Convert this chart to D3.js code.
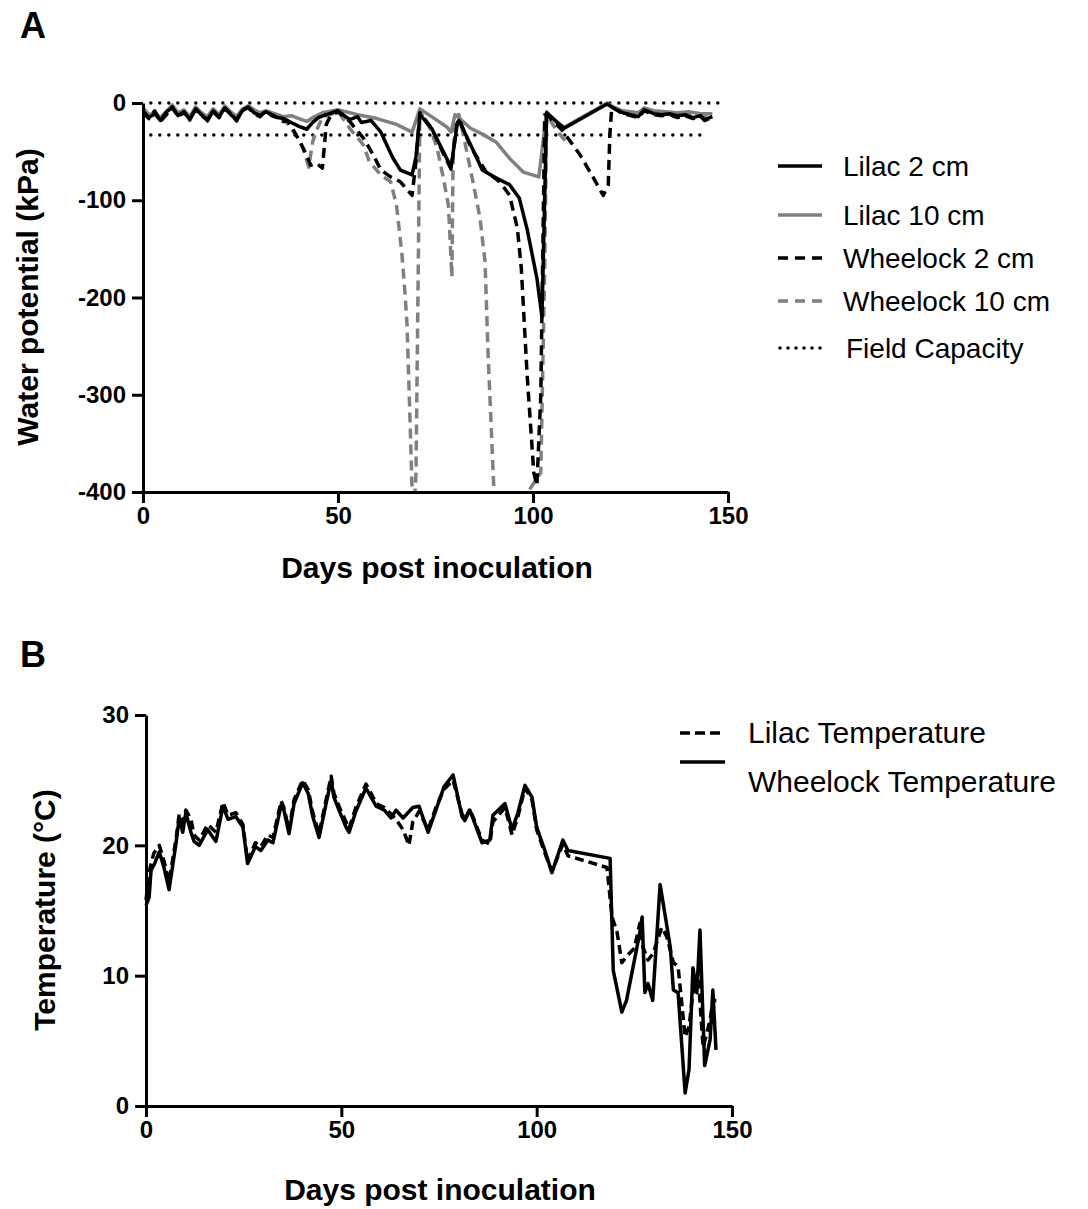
<!DOCTYPE html>
<html>
<head>
<meta charset="utf-8">
<script src="https://cdn.jsdelivr.net/npm/d3@7"></script>
<style>
  body { margin: 0; background: #fff; }
  text { font-family: "Liberation Sans", Arial, sans-serif; fill: #000; }
</style>
</head>
<body>
<div id="chart"></div>
<script>
// ---- data ----
// panel A: water potential (kPa) by day post inoculation
const lilac2 = [[0,-8],[1.5,-15],[3,-11],[4.5,-18],[6,-9],[7.5,-5],[9,-13],[10.5,-9],[12,-17],[13.5,-6],[15,-12],[16.5,-18],[18,-8],[19.5,-14],[21,-5],[22.5,-12],[24,-17],[25.5,-8],[27,-4],[28.5,-10],[30,-13],[31.5,-9],[33,-12],[34.5,-15],[36,-16],[38,-20],[40,-24],[42,-27],[43.5,-20],[45,-15],[47,-12],[50,-8],[53,-17],[55,-14],[56,-20],[58.5,-18],[61,-30],[64,-56],[66,-69],[69,-74],[70,-55],[71,-12],[74,-26],[77,-50],[79,-66],[80.5,-23],[81,-18],[84,-43],[87,-69],[90.5,-77],[94,-84],[96.5,-98],[98.5,-130],[101,-180],[102.3,-220],[103.5,-10],[108,-26],[119,-1],[120.5,-5],[123,-10],[127,-14],[128.5,-7],[131,-11],[133,-12],[135,-11],[137,-13],[139,-12],[141,-15],[143,-13],[144,-17],[146,-14]];
const lilac10 = [[0,-5],[1.5,-12],[3,-10],[4.5,-15],[6,-9],[7.5,-2],[9,-10],[10.5,-7],[12,-14],[13.5,-4],[15,-10],[16.5,-14],[18,-6],[19.5,-12],[21,-3],[22.5,-9],[24,-14],[25.5,-6],[27,-3],[28.5,-7],[30,-10],[31.5,-8],[33,-10],[34.5,-12],[36,-14],[38,-13],[40,-16],[42,-19],[43.5,-15],[46,-10],[50,-7],[55,-12],[60,-16],[65,-22],[69,-30],[71,-6],[74,-14],[78,-25],[79,-30],[80,-12],[84,-26],[87,-32],[90.5,-40],[94,-57],[97.5,-71],[101.5,-76],[103.5,-9],[106,-20],[108,-25],[119,0],[120.5,-4],[123,-8],[127,-10],[128.5,-5],[131,-8],[134,-9],[137,-10],[140,-9],[143,-11],[146,-11]];
const wheelock2 = [[0,-9],[1.5,-16],[3,-8],[4.5,-19],[6,-12],[7.5,-4],[9,-14],[10.5,-10],[12,-16],[13.5,-7],[15,-13],[16.5,-17],[18,-9],[19.5,-15],[21,-6],[22.5,-11],[24,-18],[25.5,-7],[27,-5],[28.5,-11],[30,-14],[31.5,-8],[33,-13],[34.5,-15],[36,-19],[37,-18],[38,-24],[40,-38],[41.5,-50],[43,-64],[44.5,-62],[46,-67],[47,-22],[48,-14],[50,-9],[53,-19],[56.5,-36],[59,-53],[61,-69],[63.5,-76],[66,-81],[69,-95],[70,-60],[71,-10],[74,-26],[77,-52],[79,-68],[80.5,-22],[81,-16],[84,-45],[88,-71],[91.5,-81],[94,-95],[96,-129],[97,-170],[98.5,-280],[100.2,-380],[101,-393],[102,-300],[103,-12],[104,-14],[107.5,-28],[112,-53],[115.5,-77],[118,-95],[119.3,-84],[119.7,-33],[120.2,-4],[123,-11],[127,-15],[128.5,-8],[131,-12],[133,-13],[135,-12],[137,-15],[139,-13],[141,-16],[143,-14],[144,-18],[146,-15]];
const wheelock10 = [[0,-7],[1.5,-17],[3,-9],[4.5,-18],[6,-11],[7.5,-3],[9,-14],[10.5,-8],[12,-18],[13.5,-6],[15,-12],[16.5,-19],[18,-8],[19.5,-15],[21,-4],[22.5,-11],[24,-19],[25.5,-7],[27,-4],[28.5,-10],[30,-14],[31.5,-9],[33,-12],[34.5,-16],[36,-17],[37,-21],[38,-26],[39,-32],[40,-38],[41,-46],[42.5,-66],[43.5,-40],[44.5,-28],[46,-15],[48,-12],[50,-8],[53,-26],[56.5,-43],[58,-60],[61,-74],[63.5,-81],[65,-105],[66.4,-156],[67.2,-197],[67.7,-228],[68.5,-330],[69,-400],[69.5,-420],[70,-380],[70.5,-200],[71,-8],[73.6,-26],[75.4,-46],[77,-77],[78.3,-105],[78.7,-136],[79.2,-179],[79.5,-60],[80,-14],[81,-12],[82,-30],[84.6,-81],[86.4,-118],[87.7,-163],[88.5,-260],[90,-400],[91,-450],[98,-450],[98.7,-400],[102,-380],[103,-171],[103.5,-12],[106,-28],[108.7,-41],[109,null],[119,-1],[120.5,-4],[123,-9],[127,-12],[128.5,-6],[131,-10],[134,-11],[137,-12],[140,-10],[143,-13],[146,-12]];
const fieldCapacity = [0, -33];
const fieldCapacityEnd = [148, 145];
const potTicks = [0, -100, -200, -300, -400];

// panel B: temperature (°C)
const lilacTemp = [[0,15.8],[1,18.2],[2,19.4],[3.4,20],[4.6,18.8],[5.9,17.2],[7.7,20.5],[8.5,22.4],[9.4,21.8],[10.2,22.7],[11.5,22],[12.3,20.8],[13.6,20.4],[15.8,21.6],[17.9,21],[19.7,23.3],[21,22.3],[23,22.5],[24.8,21.6],[26,18.8],[28,20.2],[29.4,19.9],[31.2,20.8],[32.5,20.6],[34.6,23.4],[35.3,22.9],[36.6,21.2],[37.9,23.5],[40.1,25],[41.5,24.3],[42.7,22.5],[44.3,20.9],[46.1,23.5],[47.4,25.3],[48.1,24],[49.4,23],[51.2,21.8],[52,21.3],[53.7,22.9],[56.3,24.7],[57.6,24],[58.9,23.2],[61,22.9],[62.7,22.4],[64,22],[65.8,21.2],[67.3,20],[68.3,21.8],[69.9,22.6],[72.2,21.2],[74.2,22.9],[76.3,24.3],[78.6,25],[80.9,22.4],[81.6,22],[82.9,22.8],[86,20.4],[88,20.1],[88.8,21.8],[91.9,22.9],[93.7,20.8],[95.2,22.2],[97,24.4],[98.8,23.5],[100,21.2],[102.1,19.4],[103.9,18],[106.7,20.1],[108,19.2],[118,18.3],[119.3,14.5],[120.6,13.3],[121.8,11],[123.4,11.6],[125,12.1],[126.4,14],[127.2,12.2],[128.5,11.2],[129.8,11.7],[132,13.7],[133.3,13],[135,11],[136.2,10.7],[138,5.3],[139,6.1],[140,8.7],[141.3,10.2],[142.6,4.5],[144.4,6.6],[145.1,8.1],[146,8.1]];
const wheelockTemp = [[0,15.4],[0.8,16],[1.3,18.1],[2.2,18.6],[3.4,19.5],[4.6,18.3],[5.9,16.6],[7.7,20.2],[8.5,22.1],[9.4,21],[10.2,22.5],[11.5,21],[12.3,20.3],[13.6,20],[15.8,21.2],[17.9,20.3],[19.7,23],[21,22],[23,22.2],[24.8,21.4],[26,18.6],[28,19.9],[29.4,19.6],[31.2,20.4],[32.5,20.2],[34.6,23.1],[35.3,22.7],[36.6,20.9],[37.9,23.2],[40.1,24.8],[41.5,24],[42.7,22.2],[44.3,20.6],[46.1,23.2],[47.4,25],[48.1,23.7],[49.4,22.7],[51.2,21.4],[52,21],[53.7,22.6],[56.3,24.4],[57.6,23.7],[58.9,23],[61,22.7],[62.7,22.1],[64,22.7],[65.8,22.1],[68.3,22.9],[69.9,23],[72.2,21],[74.2,22.7],[76.3,24.5],[78.6,25.4],[80.9,22.2],[81.6,21.9],[82.9,22.7],[86,20.2],[88,20.4],[88.8,22.3],[91.9,23.2],[93.7,21.2],[95.2,22.5],[97,24.6],[98.8,23.7],[100,21.4],[102.1,19.6],[103.9,17.9],[106.7,20.4],[108,19.6],[118.8,19],[119.6,10.4],[121.8,7.2],[123,8.1],[126.4,13.3],[127,14.5],[127.7,8.7],[128.5,9.4],[129.7,8.1],[131.6,17],[134.2,12.2],[135,8.9],[136.2,8.7],[138,1],[139,2.8],[140,10.6],[141,8.7],[141.8,13.5],[143,3.1],[144.4,5.1],[145.1,8.9],[145.9,4.3]];
const tempTicks = [0, 10, 20, 30];
const dayTicks = [0, 50, 100, 150];

const W = 1088, H = 1209;
const gray = "#808080";
const lw = 3.5;

const svg = d3.select("#chart").append("svg")
  .attr("width", W).attr("height", H);

// ---------- panel A ----------
const xA = d3.scaleLinear().domain([0, 150]).range([143, 728]);
const yA = d3.scaleLinear().domain([-400, 0]).range([492, 103]);

svg.append("defs").append("clipPath").attr("id", "clipA")
  .append("rect").attr("x", 143).attr("y", 95).attr("width", 600).attr("height", 397);

const gA = svg.append("g");

// field capacity dotted lines
fieldCapacity.forEach((v, i) => {
  gA.append("line")
    .attr("x1", xA(2)).attr("x2", xA(fieldCapacityEnd[i]))
    .attr("y1", yA(v)).attr("y2", yA(v))
    .attr("stroke", "#000").attr("stroke-width", 3.5)
    .attr("stroke-linecap", "round").attr("stroke-dasharray", "0,9");
});

const lineA = d3.line()
  .defined(d => d[1] !== null)
  .x(d => xA(d[0])).y(d => yA(d[1]));

const seriesA = [
  {data: wheelock10, color: gray, dash: "10,6"},
  {data: lilac10, color: gray, dash: null},
  {data: wheelock2, color: "#000", dash: "10,6"},
  {data: lilac2, color: "#000", dash: null}
];
const plotA = gA.append("g").attr("clip-path", "url(#clipA)");
seriesA.forEach(s => {
  plotA.append("path")
    .attr("d", lineA(s.data))
    .attr("fill", "none")
    .attr("stroke", s.color)
    .attr("stroke-width", lw)
    .attr("stroke-linejoin", "round")
    .attr("stroke-dasharray", s.dash);
});

function styleAxis(g) {
  g.selectAll(".domain").attr("stroke-width", 3);
  g.selectAll(".tick line").attr("stroke-width", 3);
  g.selectAll(".tick text")
    .style("font-size", "24px").style("font-weight", "bold")
    .style("font-family", "'Liberation Sans', Arial, sans-serif");
}
const plain = d => String(d);

gA.append("g").attr("transform", "translate(143,0)")
  .call(d3.axisLeft(yA).tickValues(potTicks).tickSize(11).tickSizeOuter(0).tickPadding(6).tickFormat(plain))
  .call(styleAxis);
gA.append("g").attr("transform", "translate(0,492)")
  .call(d3.axisBottom(xA).tickValues(dayTicks).tickSize(11).tickSizeOuter(0).tickPadding(4).tickFormat(plain))
  .call(styleAxis);

svg.append("text").attr("x", 20).attr("y", 38)
  .style("font-size", "36px").style("font-weight", "bold").text("A");
svg.append("text").attr("x", 437).attr("y", 578).attr("text-anchor", "middle")
  .style("font-size", "30px").style("font-weight", "bold").text("Days post inoculation");
svg.append("text").attr("transform", "translate(38,297) rotate(-90)").attr("text-anchor", "middle")
  .style("font-size", "30px").style("font-weight", "bold").text("Water potential (kPa)");

// legend A
const legA = [
  {label: "Lilac 2 cm", color: "#000", dash: null, y: 166, tx: 843},
  {label: "Lilac 10 cm", color: gray, dash: null, y: 215, tx: 843},
  {label: "Wheelock 2 cm", color: "#000", dash: "10,7", y: 258, tx: 843},
  {label: "Wheelock 10 cm", color: gray, dash: "10,7", y: 301, tx: 843},
  {label: "Field Capacity", color: "#000", dash: "0,8", y: 348, tx: 846}
];
legA.forEach(l => {
  const dotted = l.label === "Field Capacity";
  svg.append("line").attr("x1", dotted ? 780 : 778).attr("x2", 822)
    .attr("y1", l.y).attr("y2", l.y)
    .attr("stroke", l.color).attr("stroke-width", dotted ? 3.5 : lw)
    .attr("stroke-linecap", dotted ? "round" : "butt")
    .attr("stroke-dasharray", l.dash);
  svg.append("text").attr("x", l.tx).attr("y", l.y + 10)
    .style("font-size", "28px").text(l.label);
});

// ---------- panel B ----------
const xB = d3.scaleLinear().domain([0, 150]).range([146, 732]);
const yB = d3.scaleLinear().domain([0, 30]).range([1106, 715]);

const gB = svg.append("g");
const lineB = d3.line().x(d => xB(d[0])).y(d => yB(d[1]));

gB.append("path").attr("d", lineB(lilacTemp))
  .attr("fill", "none").attr("stroke", "#000").attr("stroke-width", lw)
  .attr("stroke-linejoin", "round").attr("stroke-dasharray", "9,5");
gB.append("path").attr("d", lineB(wheelockTemp))
  .attr("fill", "none").attr("stroke", "#000").attr("stroke-width", lw)
  .attr("stroke-linejoin", "round");

gB.append("g").attr("transform", "translate(146,0)")
  .call(d3.axisLeft(yB).tickValues(tempTicks).tickSize(11).tickSizeOuter(0).tickPadding(6).tickFormat(plain))
  .call(styleAxis);
gB.append("g").attr("transform", "translate(0,1106)")
  .call(d3.axisBottom(xB).tickValues(dayTicks).tickSize(11).tickSizeOuter(0).tickPadding(4).tickFormat(plain))
  .call(styleAxis);

svg.append("text").attr("x", 20).attr("y", 667)
  .style("font-size", "36px").style("font-weight", "bold").text("B");
svg.append("text").attr("x", 440).attr("y", 1200).attr("text-anchor", "middle")
  .style("font-size", "30px").style("font-weight", "bold").text("Days post inoculation");
svg.append("text").attr("transform", "translate(55,910) rotate(-90)").attr("text-anchor", "middle")
  .style("font-size", "30px").style("font-weight", "bold").text("Temperature (\u00B0C)");

// legend B
svg.append("line").attr("x1", 680).attr("x2", 725).attr("y1", 733).attr("y2", 733)
  .attr("stroke", "#000").attr("stroke-width", lw).attr("stroke-dasharray", "10,5");
svg.append("text").attr("x", 748).attr("y", 743).style("font-size", "30px").text("Lilac Temperature");
svg.append("line").attr("x1", 680).attr("x2", 725).attr("y1", 762).attr("y2", 762)
  .attr("stroke", "#000").attr("stroke-width", lw);
svg.append("text").attr("x", 748).attr("y", 792).style("font-size", "30px").text("Wheelock Temperature");
</script>
</body>
</html>
